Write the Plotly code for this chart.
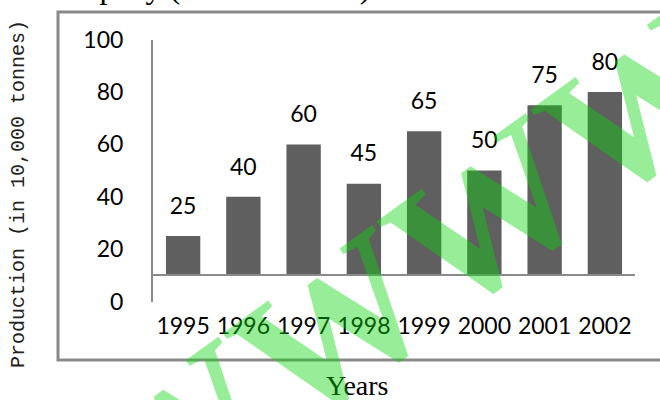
import plotly.graph_objects as go

years = ["1995", "1996", "1997", "1998", "1999", "2000", "2001", "2002"]
production = [25, 40, 60, 45, 65, 50, 75, 80]
y_ticks = [0, 20, 40, 60, 80, 100]

W, H = 660, 400
px = lambda v: v / W
py = lambda v: 1 - v / H

GRAY = "#8a8a8a"
LABEL_FONT = dict(family="Lato", size=23, color="black")
LABEL_LIFT = 28  # pixels between bar top and label centre

fig = go.Figure()
fig.add_trace(go.Bar(x=years, y=production, marker_color="#5f5f5f",
                     marker_line_width=0, hoverinfo="skip", cliponaxis=True))
# invisible companion trace so the full 0-100 value axis is drawn
fig.add_trace(go.Scatter(x=years, y=production, yaxis="y2", mode="markers",
                         marker=dict(opacity=0), hoverinfo="skip"))
# value labels (same scale, axis lifted by LABEL_LIFT px)
fig.add_trace(go.Scatter(x=years, y=production, yaxis="y3", mode="text",
                         text=[str(v) for v in production], textposition="middle center",
                         textfont=LABEL_FONT, cliponaxis=False, hoverinfo="skip"))

fig.update_layout(
    width=W, height=H, margin=dict(l=0, r=0, t=0, b=0, autoexpand=False),
    paper_bgcolor="white", plot_bgcolor="rgba(0,0,0,0)",
    showlegend=False, bargap=0.43,
    xaxis=dict(domain=[px(153), px(635)], anchor="y", type="category", range=[-0.5, 7.5],
               showline=True, linecolor=GRAY, linewidth=2, showgrid=False, zeroline=False,
               ticks="outside", ticklen=30, tickcolor="rgba(0,0,0,0)", tickfont=LABEL_FONT),
    yaxis=dict(domain=[py(274), py(39.7)], range=[10.5, 100], showticklabels=False,
               showline=False, ticks="", showgrid=False, zeroline=False),
    yaxis2=dict(domain=[py(301.5), py(39.7)], range=[0, 100], anchor="x",
                tickvals=y_ticks, showline=True, linecolor=GRAY, linewidth=2,
                showgrid=False, zeroline=False, ticks="outside", ticklen=23,
                tickcolor="rgba(0,0,0,0)", tickfont=LABEL_FONT),
    yaxis3=dict(domain=[py(274 - LABEL_LIFT), py(39.7 - LABEL_LIFT)], range=[10.5, 100],
                anchor="x", visible=False),
)

# outer frame
fig.add_shape(type="rect", xref="paper", yref="paper", x0=px(58), x1=1.05,
              y0=py(360), y1=py(12), line=dict(color=GRAY, width=3), layer="below")

# axis titles
fig.add_annotation(xref="paper", yref="paper", x=px(18), y=py(194), xanchor="center",
                   yanchor="middle", text="Production (in 10,000 tonnes)", textangle=-90,
                   showarrow=False, font=dict(family="Liberation Mono", size=20, color="#222"))
fig.add_annotation(xref="paper", yref="paper", x=px(357), y=py(385), xanchor="center",
                   yanchor="middle", text="Years", showarrow=False,
                   font=dict(family="Liberation Serif", size=28, color="black"))
# cut-off title at the top
fig.add_annotation(xref="paper", yref="paper", x=px(372), y=py(7), xanchor="right",
                   yanchor="bottom", text="Production of a company (in lakh tonnes)",
                   showarrow=False, font=dict(family="Liberation Serif", size=32, color="black"))

# watermark
fig.add_annotation(xref="paper", yref="paper", x=px(410), y=py(272), xanchor="center",
                   yanchor="middle", text="<b>WWWW</b>", textangle=-36, showarrow=False,
                   font=dict(family="Liberation Serif", size=190, color="rgba(10,215,10,0.42)"))

fig.write_html("out.html", config={"displayModeBar": False},
               post_script="document.body.style.margin='0';")
